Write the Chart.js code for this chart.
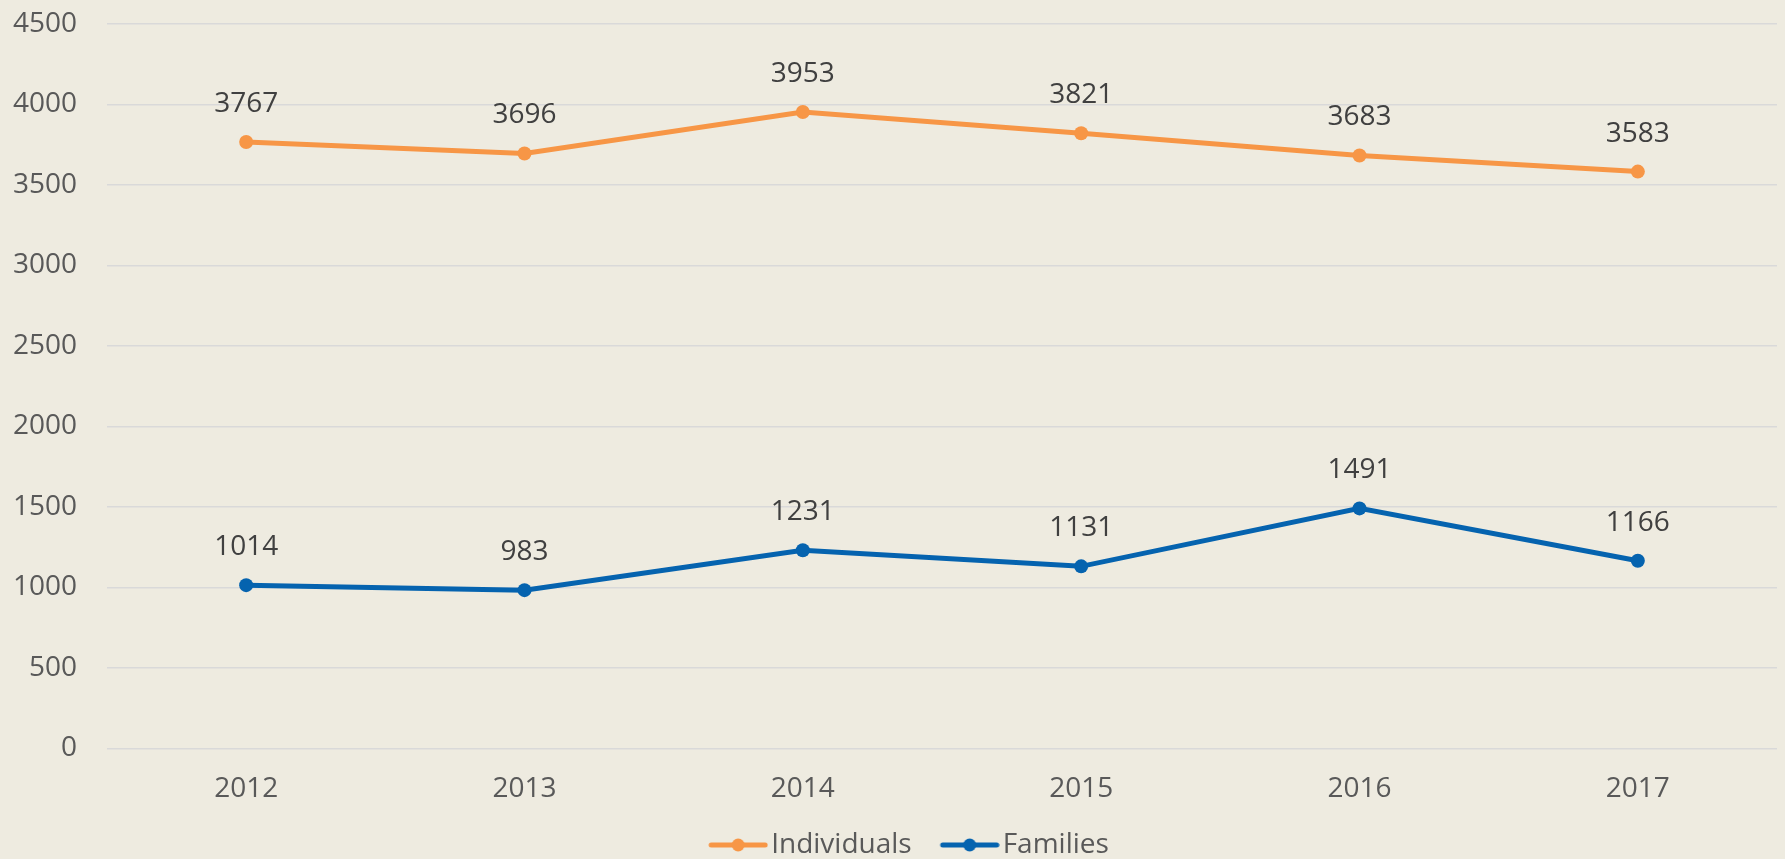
<!DOCTYPE html>
<html>
<head>
<meta charset="utf-8">
<script src="https://cdn.jsdelivr.net/npm/chart.js@4.4.1/dist/chart.umd.min.js"></script>
<style>
  body { margin: 0; background: #EEEBE0; }
  #wrap { width: 1785px; height: 859px; position: relative; }
</style>
</head>
<body>
<div id="wrap"><canvas id="myChart"></canvas></div>
<script>
// datos
var years = ['2012', '2013', '2014', '2015', '2016', '2017'];
var individuals = [3767, 3696, 3953, 3821, 3683, 3583];
var families = [1014, 983, 1231, 1131, 1491, 1166];

var orange = '#F79646';
var blue = '#0563AF';
var fontFam = '"Open Sans", "Liberation Sans", sans-serif';

// icono de leyenda: linea con punto (desplazado a la derecha)
function legendIcon(color) {
    var c = document.createElement('canvas');
    c.width = 98; c.height = 16;
    var g = c.getContext('2d');
    g.strokeStyle = color;
    g.lineWidth = 5;
    g.lineCap = 'round';
    g.beginPath(); g.moveTo(41, 8); g.lineTo(95, 8); g.stroke();
    g.fillStyle = color;
    g.beginPath(); g.arc(68, 8, 6.5, 0, Math.PI * 2); g.fill();
    return c;
}
var icons = [legendIcon(orange), legendIcon(blue)];

// etiquetas de valores sobre los puntos
var valueLabels = {
    id: 'valueLabels',
    afterDatasetsDraw: function(chart) {
        var ctx = chart.ctx;
        ctx.save();
        ctx.font = '28px ' + fontFam;
        ctx.fillStyle = '#404040';
        ctx.textAlign = 'center';
        ctx.textBaseline = 'middle';
        chart.data.datasets.forEach(function(ds, i) {
            var meta = chart.getDatasetMeta(i);
            meta.data.forEach(function(pt, j) {
                ctx.fillText(String(ds.data[j]), pt.x, pt.y - 38);
            });
        });
        ctx.restore();
    }
};

var ctx = document.getElementById('myChart').getContext('2d');
var myChart = new Chart(ctx, {
    type: 'line',
    data: {
        labels: years,
        datasets: [{
            label: 'Individuals',
            data: individuals,
            borderColor: orange,
            backgroundColor: orange,
            borderWidth: 5,
            pointRadius: 7,
            pointHoverRadius: 7,
            pointBorderWidth: 0,
            tension: 0
        }, {
            label: 'Families',
            data: families,
            borderColor: blue,
            backgroundColor: blue,
            borderWidth: 5,
            pointRadius: 7,
            pointHoverRadius: 7,
            pointBorderWidth: 0,
            tension: 0
        }]
    },
    options: {
        responsive: true,
        maintainAspectRatio: false,
        animation: false,
        layout: { padding: { top: 24, right: 8, left: 13, bottom: -10 } },
        scales: {
            x: {
                offset: true,
                grid: { display: false, drawTicks: false },
                border: { display: false },
                ticks: { color: '#595959', font: { size: 28, family: fontFam }, padding: 24 }
            },
            y: {
                min: 0,
                max: 4500,
                afterFit: function(scale) {
                    scale.width = 94;
                    scale.paddingTop = 0;
                    scale.paddingBottom = 0;
                },
                ticks: {
                    stepSize: 500,
                    color: '#595959',
                    font: { size: 28, family: fontFam },
                    padding: 30,
                    callback: function(v) { return String(v); }
                },
                grid: { color: '#D9D9D9', lineWidth: 1.5, drawTicks: false },
                border: { display: false }
            }
        },
        plugins: {
            tooltip: { enabled: false },
            legend: {
                position: 'bottom',
                labels: {
                    usePointStyle: true,
                    pointStyleWidth: 76,
                    color: '#595959',
                    font: { size: 28, family: fontFam },
                    padding: 1,
                    generateLabels: function(chart) {
                        var items = Chart.defaults.plugins.legend.labels.generateLabels(chart);
                        items.forEach(function(it, i) { it.pointStyle = icons[i]; });
                        return items;
                    }
                }
            }
        }
    },
    plugins: [valueLabels]
});
</script>
</body>
</html>
